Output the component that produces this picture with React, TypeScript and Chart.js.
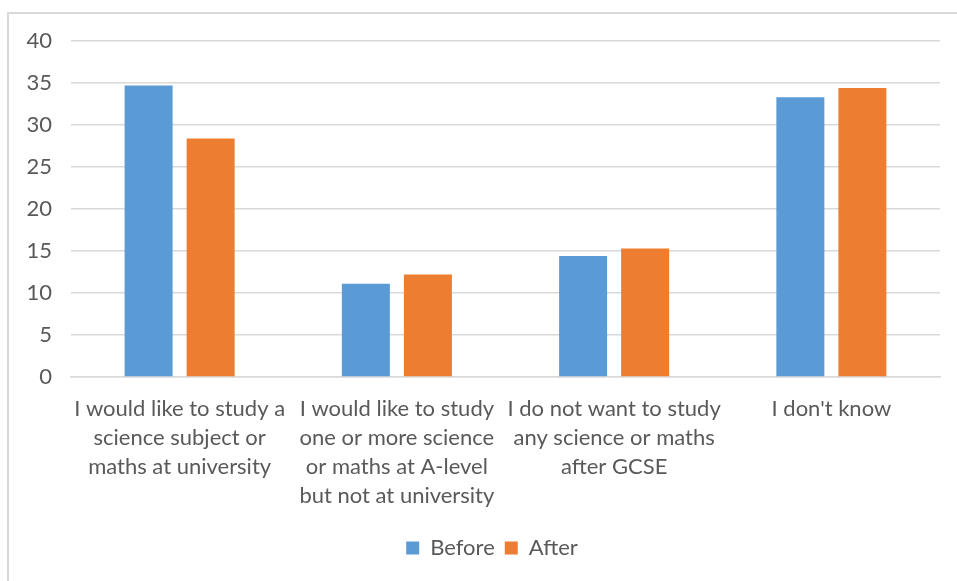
import React, { useEffect, useRef } from "react";
import { Chart, registerables } from "chart.js";
Chart.register(...registerables);

const categories: string[][] = [
  ["I would like to study a", "science subject or", "maths at university"],
  ["I would like to study", "one or more science", "or maths at A-level", "but not at university"],
  ["I do not want to study", "any science or maths", "after GCSE"],
  ["I don't know"],
];
const seriesNames = ["Before", "After"];
const beforeValues = [34.7, 11.1, 14.4, 33.3];
const afterValues = [28.4, 12.2, 15.3, 34.4];
const yMin = 0;
const yMax = 40;
const yStep = 5;

const FONT = "Lato, 'Open Sans', sans-serif";
const TEXT = "#595959";
const GRID = "#d9d9d9";

const legendShift = {
  id: "legendShift",
  afterLayout(chart: any) {
    const lg = chart.legend;
    if (lg) {
      lg.left += 22;
      lg.right += 22;
    }
  },
};

export default function App() {
  const ref = useRef<HTMLCanvasElement | null>(null);
  useEffect(() => {
    document.body.style.margin = "0";
    document.body.style.overflow = "hidden";
    const chart = new Chart(ref.current!, {
      type: "bar",
      data: {
        labels: categories,
        datasets: [
          { label: seriesNames[0], data: beforeValues, backgroundColor: "#5B9BD5" },
          { label: seriesNames[1], data: afterValues, backgroundColor: "#ED7D31" },
        ],
      },
      plugins: [legendShift],
      options: {
        responsive: false,
        animation: false,
        maintainAspectRatio: false,
        datasets: { bar: { barPercentage: 0.774, categoryPercentage: 0.571 } },
        layout: { padding: { left: 0, right: 17, top: 41, bottom: 12 } },
        plugins: {
          tooltip: { enabled: false },
          legend: {
            position: "bottom",
            labels: {
              boxWidth: 13,
              boxHeight: 13,
              padding: 10,
              color: TEXT,
              font: { family: FONT, size: 22 },
            },
          },
        },
        scales: {
          x: {
            grid: { display: false, drawTicks: false },
            border: { display: true, color: GRID, width: 1.5 },
            ticks: {
              color: TEXT,
              font: { family: FONT, size: 22, lineHeight: 1.32 },
              padding: 17,
              maxRotation: 0,
              autoSkip: false,
            },
            afterFit: (s: any) => {
              s.height = 150;
            },
          },
          y: {
            min: yMin,
            max: yMax,
            grid: { color: GRID, lineWidth: 1.5, drawTicks: false },
            border: { display: false },
            ticks: {
              stepSize: yStep,
              color: TEXT,
              font: { family: FONT, size: 22 },
              padding: 19,
            },
            afterFit: (s: any) => {
              s.width = 71;
            },
          },
        },
      },
    });
    return () => chart.destroy();
  }, []);
  return (
    <div style={{ position: "fixed", left: 0, top: 0, width: 957, height: 581, overflow: "hidden", background: "#fff" }}>
      <canvas ref={ref} width={957} height={581} style={{ position: "absolute", left: 0, top: 0 }} />
      <div
        style={{
          position: "absolute",
          left: 7,
          top: 12,
          width: 980,
          height: 600,
          border: "2px solid #d9d9d9",
          boxSizing: "border-box",
          pointerEvents: "none",
        }}
      />
    </div>
  );
}
